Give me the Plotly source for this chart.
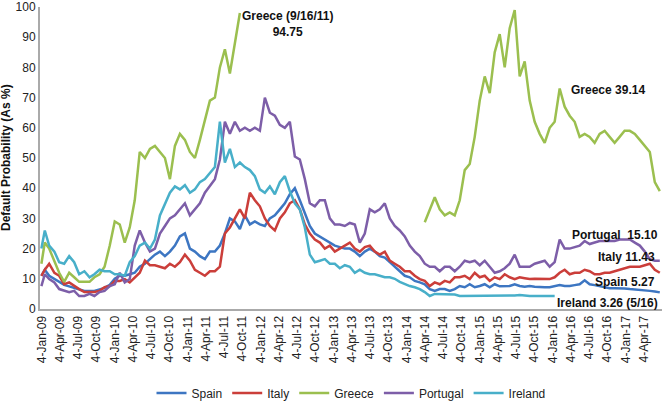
import plotly.graph_objects as go

dates = [
    "2009-01-02", "2009-01-19", "2009-02-10", "2009-03-08", "2009-04-01", "2009-04-26", "2009-05-21", "2009-06-15", "2009-07-10", "2009-08-05",
    "2009-08-31", "2009-09-24", "2009-10-20", "2009-11-14", "2009-12-10", "2010-01-04", "2010-01-29", "2010-02-23", "2010-03-20", "2010-04-14",
    "2010-05-09", "2010-06-04", "2010-06-29", "2010-07-24", "2010-08-18", "2010-09-12", "2010-10-07", "2010-11-01", "2010-11-26", "2010-12-21",
    "2011-01-15", "2011-02-09", "2011-03-06", "2011-03-31", "2011-04-25", "2011-05-20", "2011-06-14", "2011-07-09", "2011-08-03", "2011-08-28",
    "2011-09-22", "2011-10-17", "2011-11-11", "2011-12-06", "2011-12-31", "2012-01-25", "2012-02-19", "2012-03-15", "2012-04-09", "2012-05-04",
    "2012-05-29", "2012-06-23", "2012-07-18", "2012-08-12", "2012-09-06", "2012-10-01", "2012-10-26", "2012-11-20", "2012-12-15", "2013-01-09",
    "2013-02-03", "2013-02-28", "2013-03-25", "2013-04-19", "2013-05-14", "2013-06-08", "2013-07-03", "2013-07-28", "2013-08-22", "2013-09-16",
    "2013-10-11", "2013-11-05", "2013-11-30", "2013-12-25", "2014-01-19", "2014-02-13", "2014-03-10", "2014-04-04", "2014-04-29", "2014-05-24",
    "2014-06-18", "2014-07-13", "2014-08-07", "2014-09-01", "2014-09-26", "2014-10-21", "2014-11-15", "2014-12-10", "2015-01-04", "2015-01-29",
    "2015-02-23", "2015-03-20", "2015-04-14", "2015-05-09", "2015-06-03", "2015-06-28", "2015-07-23", "2015-08-17", "2015-09-11", "2015-10-06",
    "2015-10-31", "2015-11-25", "2015-12-20", "2016-01-14", "2016-02-08", "2016-03-04", "2016-03-29", "2016-04-23", "2016-05-18", "2016-06-12",
    "2016-07-07", "2016-08-01", "2016-08-26", "2016-09-20", "2016-10-15", "2016-11-09", "2016-12-04", "2016-12-29", "2017-01-24", "2017-02-18",
    "2017-03-15", "2017-04-09", "2017-05-04", "2017-05-29", "2017-06-23",
]

spain = [
    11, 13, 11, 10, 9, 8, 7.5, 7, 6.5, 6,
    6, 6, 6.5, 7, 8, 10, 11, 11, 11.5, 12,
    14, 15, 16.5, 18, 19, 17.5, 19, 21, 24, 25,
    20, 19, 17.5, 16.5, 19, 19, 21, 25, 30, 29,
    26.5, 31, 28, 29, 28, 27.5, 30, 31, 33, 35,
    38, 40, 36, 32, 27.5, 25, 24, 23, 22, 21,
    20.5, 20, 20, 19, 17.5, 19, 20, 19, 17.5, 17,
    15.5, 14, 12.5, 11, 10.5, 9.3, 8.8, 8.2, 6.6, 6,
    6.6, 6.6, 6, 6.6, 7.6, 7.2, 8.2, 7.2, 7.6, 8.2,
    7.2, 8.2, 7.5, 7.5, 7.6, 8.2, 7.6, 7.4, 7.6, 7.4,
    7.2, 7.2, 7.2, 7.5, 7.9, 7.6, 7.6, 7.9, 8.2, 9.5,
    8.2, 7.9, 7.6, 7.2, 6.9, 6.9, 6.9, 6.8, 6.6, 6.5,
    6.3, 6.1, 6, 5.8, 5.5,
]

italy = [
    11, 13, 15, 12, 11, 8.2, 8.8, 7.6, 6.6, 5.6,
    5.6, 5.6, 6, 7.2, 7.6, 9.3, 9.3, 9.9, 8.8, 10.5,
    12, 16, 14.5, 14.5, 14, 13.5, 15, 14, 15.5, 18,
    16, 13, 12, 11, 12.5, 12.5, 14, 25, 27, 30,
    33, 30, 38.5, 36, 34, 30, 27.5, 26, 30, 32,
    35, 36, 33, 28, 25, 23, 22, 20, 21, 19,
    20, 21, 22, 20, 19, 20.5, 21, 19, 18, 19,
    16, 15, 14, 12.5, 12.5, 11, 9.9, 9.3, 7.6, 8.8,
    8.2, 9.3, 8.8, 10.5, 10.5, 11, 9.9, 12, 10.5, 11,
    9.3, 10.5, 9.9, 11.5, 10.5, 9.9, 10.5, 10.2, 9.9, 10,
    9.9, 9.9, 9.9, 10.5, 12, 13, 11.5, 12, 12, 13,
    12.5, 11.5, 11.5, 12, 12, 12.5, 13, 13.5, 14, 14,
    14, 14.5, 15, 13, 12,
]

greece = [
    15, 22, 20, 16, 12, 9, 12, 10.5, 9, 9,
    9, 10.5, 11.5, 14, 21, 29, 28, 22, 27, 36,
    52, 50, 53, 54, 52, 50, 43, 54, 58, 56,
    52, 50, 56, 63, 69, 70, 80, 86, 78, 88,
    98, None, None, None, None, None, None, None, None, None,
    None, None, None, None, None, None, None, None, None, None,
    None, None, None, None, None, None, None, None, None, None,
    None, None, None, None, None, None, None, 28.7, 33, 37,
    33, 31, 32, 31, 36, 46, 48, 57, 69, 77,
    71.5, 85, 91, 80, 93, 99, 77, 82, 69, 62,
    58, 55, 60, 62, 73, 67, 64, 62, 57, 58,
    57, 55, 58, 59, 57, 55, 57, 59, 59, 58,
    56, 54, 52, 42, 39,
]

portugal = [
    7.6, 11.5, 9.9, 8.8, 6.6, 6, 5.6, 6, 4.3, 4.3,
    5, 4.3, 5.6, 6, 7.6, 8.2, 12, 8.8, 9.9, 21,
    26, 22, 19, 20, 25, 27.5, 30, 31, 33, 35,
    31, 33, 35, 38.5, 40.6, 43, 49.5, 62, 58, 62,
    59, 60, 59, 60, 59, 70, 65, 64, 61, 60,
    62, 50.5, 49.5, 43, 35, 34, 36, 36, 30, 28,
    28, 27.5, 28.5, 28, 22, 25, 33, 32, 33, 35,
    30, 27.5, 26, 24, 21, 19, 17.5, 15, 14, 14,
    12.5, 14, 14, 12.5, 14, 16, 15.5, 16, 14.5, 16,
    14, 12, 12.5, 13.5, 15, 18, 14, 14, 14, 15,
    15.5, 16, 14, 15.5, 23, 20, 20, 20.5, 21, 22.5,
    21.5, 22, 22.5, 22.5, 22.5, 22.5, 23, 23, 23, 22,
    21, 19, 16.5, 16, 16,
]

ireland = [
    20, 26, 21, 19, 15.5, 15, 17.5, 15.5, 11.5, 12.5,
    10.5, 11.5, 13, 12.5, 12.5, 11.5, 11.5, 11, 15.5, 17.5,
    21, 22, 20, 23, 31, 35, 38.5, 40.6, 39.6, 41,
    38.5, 39.6, 42, 43, 45, 47, 62, 48.5, 53, 47,
    48.5, 47, 46, 44, 39.6, 38.5, 40.6, 38, 42, 44,
    39, 35, 33, 27, 18, 15.5, 16, 16.5, 15, 15,
    13.5, 14.5, 14, 12, 13, 12, 11.5, 11.5, 11, 10.5,
    10.5, 10, 9, 8.2, 7.6, 7.2, 6.6, 5.6, 4.3, 5,
    5, 5, 5, 4.8, 4.3, 4.3, 4.3, 4.3, 4.3, 4.3,
    4.3, 4.3, 4.3, 4.3, 4.3, 4.5, 4.6, 4.4, 4.3, 4.3,
    4.3, 4.2, 4.3, 4.3, None, None, None, None, None, None,
    None, None, None, None, None, None, None, None, None, None,
    None, None, None, None, None,
]

tick_dates = [
    "2009-01-04", "2009-04-04", "2009-07-04", "2009-10-04",
    "2010-01-04", "2010-04-04", "2010-07-04", "2010-10-04",
    "2011-01-04", "2011-04-04", "2011-07-04", "2011-10-04",
    "2012-01-04", "2012-04-04", "2012-07-04", "2012-10-04",
    "2013-01-04", "2013-04-04", "2013-07-04", "2013-10-04",
    "2014-01-04", "2014-04-04", "2014-07-04", "2014-10-04",
    "2015-01-04", "2015-04-04", "2015-07-04", "2015-10-04",
    "2016-01-04", "2016-04-04", "2016-07-04", "2016-10-04",
    "2017-01-04", "2017-04-04",
]
tick_labels = [
    "4-Jan-09", "4-Apr-09", "4-Jul-09", "4-Oct-09",
    "4-Jan-10", "4-Apr-10", "4-Jul-10", "4-Oct-10",
    "4-Jan-11", "4-Apr-11", "4-Jul-11", "4-Oct-11",
    "4-Jan-12", "4-Apr-12", "4-Jul-12", "4-Oct-12",
    "4-Jan-13", "4-Apr-13", "4-Jul-13", "4-Oct-13",
    "4-Jan-14", "4-Apr-14", "4-Jul-14", "4-Oct-14",
    "4-Jan-15", "4-Apr-15", "4-Jul-15", "4-Oct-15",
    "4-Jan-16", "4-Apr-16", "4-Jul-16", "4-Oct-16",
    "4-Jan-17", "4-Apr-17",
]

series = [
    ("Spain", spain, "#3d76c2"),
    ("Italy", italy, "#cb3e3a"),
    ("Greece", greece, "#9bbf4f"),
    ("Portugal", portugal, "#7d5ea8"),
    ("Ireland", ireland, "#48afc9"),
]

FONT = "Liberation Sans, Arial, Helvetica, sans-serif"

fig = go.Figure()
for name, vals, col in series:
    fig.add_trace(go.Scatter(
        x=dates, y=vals, name=name, mode="lines",
        line=dict(color=col, width=2.5), connectgaps=False,
    ))

ann_style = dict(showarrow=False, xref="paper", yref="paper",
                 font=dict(family=FONT, size=12, color="#111111"))
annotations = [
    dict(text="<b>Greece (9/16/11)</b><br><b>94.75</b>", x=0.3987, y=0.944,
         xanchor="center", yanchor="middle", **ann_style),
    dict(text="<b>Greece 39.14</b>", x=0.976, y=0.7256, xanchor="right", yanchor="middle", **ann_style),
    dict(text="<b>Portugal  15.10</b>", x=0.9968, y=0.2463, xanchor="right", yanchor="middle", **ann_style),
    dict(text="<b>Italy 11.43</b>", x=0.992, y=0.1736, xanchor="right", yanchor="middle", **ann_style),
    dict(text="<b>Spain 5.27</b>", x=0.992, y=0.0909, xanchor="right", yanchor="middle", **ann_style),
    dict(text="<b>Ireland 3.26 (5/16)</b>", x=0.9968, y=0.0215, xanchor="right", yanchor="middle", **ann_style),
    dict(text="<b>Default Probability (As %)</b>", x=-34/622, y=0.5, textangle=-90,
         xanchor="center", yanchor="middle", **ann_style),
]

fig.update_layout(
    width=662, height=401,
    margin=dict(l=40, r=0, t=7, b=91.5),
    paper_bgcolor="white", plot_bgcolor="white",
    font=dict(family=FONT, size=12, color="#222222"),
    showlegend=True,
    legend=dict(orientation="h", x=0.5, xanchor="center", yref="container", y=0.02, yanchor="middle",
                font=dict(family=FONT, size=12, color="#222222"), itemwidth=30,
                bgcolor="rgba(0,0,0,0)"),
    annotations=annotations,
    xaxis=dict(
        type="date", range=["2008-12-26", "2017-07-04"],
        tickmode="array", tickvals=tick_dates, ticktext=tick_labels,
        tickangle=-90, showgrid=False, zeroline=False,
        showline=True, linecolor="#aaaaaa", linewidth=2,
        ticks="", tickfont=dict(family=FONT, size=12, color="#222222"),
    ),
    yaxis=dict(
        range=[0, 100], tickmode="array", tickvals=[0, 10, 20, 30, 40, 50, 60, 70, 80, 90, 100],
        showgrid=False, zeroline=False, showline=True, linecolor="#aaaaaa", linewidth=2,
        ticks="", tickfont=dict(family=FONT, size=12, color="#222222"),
    ),
)

fig.write_html(
    "out.html",
    config={"displayModeBar": False},
    post_script="document.body.style.margin='0px';document.body.style.padding='0px';document.body.style.overflow='hidden';",
)
